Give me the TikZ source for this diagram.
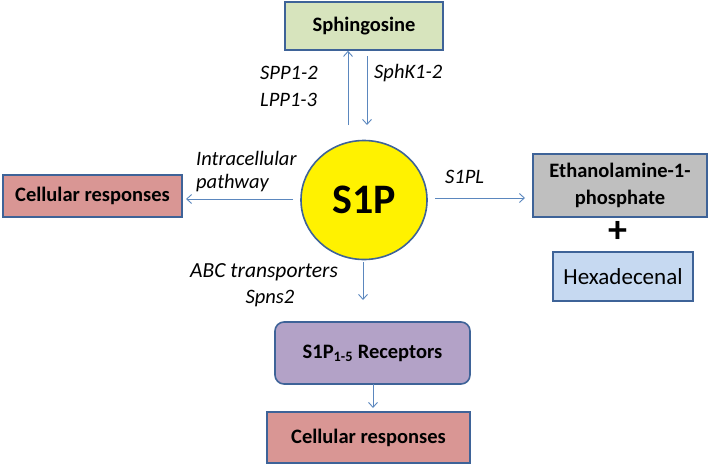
\documentclass[tikz,border=0pt]{standalone}
\usepackage{fontspec}
\setmainfont{Carlito}
\usetikzlibrary{arrows.meta,shapes.geometric}
\definecolor{bord}{HTML}{3E6398}
\definecolor{arrc}{HTML}{5B87BE}
\definecolor{sphf}{HTML}{D7E4BD}
\definecolor{crf}{HTML}{D99694}
\definecolor{ethf}{HTML}{BFBFBF}
\definecolor{hexf}{HTML}{C6D9F1}
\definecolor{recf}{HTML}{B3A2C7}
\tikzset{
  box/.style={draw=bord, line width=1.6pt, rectangle, inner sep=0pt, align=center, font=\fontsize{20.5}{27}\selectfont\bfseries},
  arr/.style={draw=arrc, line width=0.9pt, -{Straight Barb[length=5pt,width=9pt]}},
  lab/.style={inner sep=0pt, font=\fontsize{20.5}{24}\selectfont\itshape, align=left}
}
\begin{document}
\begin{tikzpicture}[x=1pt,y=-1pt]
\useasboundingbox (0,0) rectangle (708,466);
\node[box, fill=sphf, minimum width=158pt, minimum height=48pt] (sph) at (364,26) {Sphingosine};
\node[ellipse, draw=bord, line width=1.6pt, fill=yellow, minimum width=126pt, minimum height=119pt, inner sep=0pt, font=\fontsize{42}{42}\selectfont\bfseries] (s1p) at (364,200) {S1P};
\node[box, fill=crf, minimum width=179pt, minimum height=42pt] (cr1) at (92.5,196) {Cellular responses};
\node[box, fill=ethf, minimum width=174pt, minimum height=63pt] (eth) at (620,185.5) {Ethanolamine-1-\\phosphate};
\node[inner sep=0pt, font=\fontsize{38}{38}\selectfont\bfseries] (plus) at (618,232) {+};
\node[box, fill=hexf, minimum width=140pt, minimum height=49pt, font=\fontsize{23}{28}\selectfont] (hex) at (623,276.5) {Hexadecenal};
\node[box, fill=recf, minimum width=195pt, minimum height=62pt, rounded corners=9pt] (rec) at (372.5,353) {S1P\textsubscript{1-5} Receptors};
\node[box, fill=crf, minimum width=203pt, minimum height=51pt] (cr2) at (368.5,437.5) {Cellular responses};

\coordinate (a1) at (348,125);
\coordinate (a2s) at (367,56);
\coordinate (a2e) at (367,125);
\coordinate (a3) at (293,199);
\coordinate (a3e) at (186,199);
\coordinate (a4) at (435,198);
\coordinate (a4e) at (525,198);
\coordinate (a5) at (363,262);
\coordinate (a5e) at (363,300);
\coordinate (a6) at (373,384);
\coordinate (a6e) at (373,408);

\draw[arr] (a1) -- (a1 |- sph.south);
\draw[arr] (a2s) -- (a2e);
\draw[arr] (a3) -- (a3e);
\draw[arr] (a4) -- (a4e);
\draw[arr] (a5) -- (a5e);
\draw[arr] (a6) -- (a6e);

\node[lab, anchor=west] (l1) at (260,73) {SPP1-2};
\node[lab, anchor=west] (l2) at (260,100) {LPP1-3};
\node[lab, anchor=west] (l3) at (374,73) {SphK1-2};
\node[lab, anchor=west] (l4) at (196,158) {Intracellular};
\node[lab, anchor=west] (l5) at (196,183) {pathway};
\node[lab, anchor=west] (l6) at (445,177) {S1PL};
\node[lab, anchor=west, font=\fontsize{21.5}{24}\selectfont\itshape] (l7) at (190,272) {ABC transporters};
\node[lab] (l8) at (270,298) {Spns2};
\end{tikzpicture}
\end{document}
